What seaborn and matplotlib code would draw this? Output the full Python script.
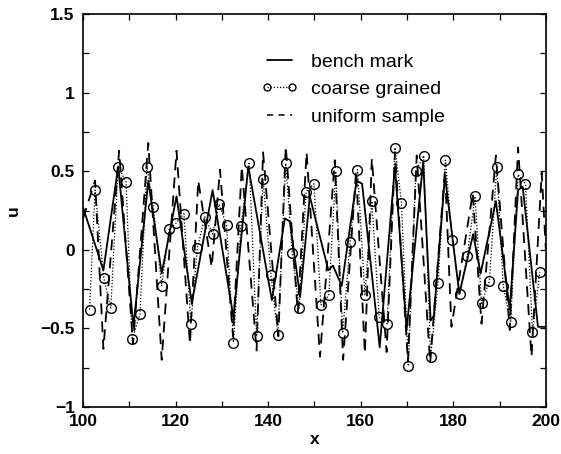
import matplotlib
matplotlib.use("Agg")
import matplotlib.pyplot as plt
from matplotlib.ticker import MultipleLocator
import seaborn as sns
import pandas as pd

# bench mark (solid)
bench_x = [100.0, 104.4, 107.6, 110.9, 114.1, 117.0, 120.2, 123.5, 128.0, 132.5,
           135.7, 140.8, 143.6, 144.7, 146.9, 149.0, 153.0, 154.0, 155.9, 159.1,
           160.3, 164.1, 167.4, 169.9, 173.5, 175.1, 175.8, 178.2, 181.3, 184.3,
           185.9, 189.2, 192.2, 194.0, 195.0, 198.3, 200.0]
bench_u = [0.27, -0.13, 0.53, -0.49, 0.44, -0.15, 0.34, -0.34, 0.38, -0.43,
           0.53, -0.32, 0.20, 0.18, -0.30, 0.34, -0.13, -0.10, -0.23, 0.44,
           0.42, -0.62, 0.53, -0.51, 0.56, -0.45, -0.42, 0.47, -0.28, 0.10,
           -0.15, 0.31, -0.38, 0.38, 0.40, -0.49, -0.49]

# coarse grained (circles, dotted)
coarse_x = [101.4, 102.6, 104.5, 106.0, 107.6, 109.3, 110.6, 112.3, 113.8, 115.2,
            117.0, 118.6, 120.1, 121.8, 123.3, 124.7, 126.3, 128.0, 129.4, 131.0,
            132.5, 134.1, 135.9, 137.5, 138.9, 140.6, 142.1, 143.8, 145.2, 146.7,
            148.2, 149.9, 151.4, 153.1, 154.6, 156.1, 157.7, 159.3, 160.9, 162.4,
            164.0, 165.7, 167.4, 168.8, 170.3, 171.9, 173.6, 175.1, 176.7, 178.3,
            179.8, 181.4, 183.0, 184.7, 186.1, 187.8, 189.4, 190.8, 192.4, 194.0,
            195.6, 197.1, 198.7]
coarse_u = [-0.38, 0.38, -0.18, -0.37, 0.53, 0.43, -0.57, -0.41, 0.53, 0.27,
            -0.23, 0.13, 0.17, 0.23, -0.47, 0.01, 0.21, 0.10, 0.29, 0.16,
            -0.59, 0.15, 0.55, -0.55, 0.45, -0.16, -0.54, 0.55, -0.02, -0.37,
            0.37, 0.42, -0.35, -0.29, 0.50, -0.53, 0.05, 0.51, -0.29, 0.31,
            -0.43, -0.47, 0.65, 0.30, -0.74, 0.50, 0.60, -0.68, -0.21, 0.57,
            0.06, -0.28, -0.04, 0.34, -0.34, -0.20, 0.53, -0.23, -0.46, 0.48,
            0.42, -0.52, -0.14]

# uniform sample (dashed)
uniform_x = [100.0, 102.6, 104.4, 107.8, 110.8, 114.1, 117.0, 120.2, 123.1, 124.9,
             127.8, 129.6, 132.4, 134.3, 137.5, 138.9, 142.2, 143.8, 146.4, 148.3,
             151.2, 154.4, 156.2, 159.0, 160.9, 162.4, 165.6, 167.4, 170.2, 172.1,
             175.0, 178.2, 179.6, 184.2, 186.1, 189.2, 192.2, 194.0, 196.9, 199.1,
             200.0]
uniform_u = [0.20, 0.44, -0.63, 0.63, -0.60, 0.68, -0.70, 0.63, -0.60, 0.44,
             -0.11, 0.51, -0.55, 0.53, -0.64, 0.62, -0.55, 0.66, -0.40, 0.62,
             -0.68, 0.57, -0.70, 0.50, -0.66, 0.58, -0.65, 0.62, -0.71, 0.60,
             -0.72, 0.51, -0.49, 0.36, -0.47, 0.60, -0.51, 0.65, -0.68, 0.49,
             0.00]

bench = pd.DataFrame({"x": bench_x, "u": bench_u})
coarse = pd.DataFrame({"x": coarse_x, "u": coarse_u})
uniform = pd.DataFrame({"x": uniform_x, "u": uniform_u})

sns.set_style("ticks", {"axes.edgecolor": "black", "text.color": "black",
                        "axes.labelcolor": "black", "xtick.color": "black",
                        "ytick.color": "black"})
plt.rcParams['font.family'] = ['Liberation Sans', 'DejaVu Sans']

fig = plt.figure(figsize=(5.61, 4.54), dpi=100)
ax = fig.add_axes([0.148, 0.1035, 0.825, 0.8656])

sns.lineplot(data=bench, x="x", y="u", ax=ax, color="black", linewidth=1.3,
             estimator=None, sort=False, label="bench mark")
sns.lineplot(data=coarse, x="x", y="u", ax=ax, color="black", linewidth=0.9,
             linestyle=(0, (1, 1.5)), marker="o", markersize=7, markerfacecolor="none",
             markeredgecolor="black", markeredgewidth=1.0,
             estimator=None, sort=False, label="coarse grained")
sns.lineplot(data=uniform, x="x", y="u", ax=ax, color="black", linewidth=1.3,
             linestyle=(0, (6, 4)), estimator=None, sort=False, label="uniform sample")

ax.set_xlim(100, 200)
ax.set_ylim(-1, 1.5)
ax.xaxis.set_major_locator(MultipleLocator(20))
ax.xaxis.set_minor_locator(MultipleLocator(10))
ax.yaxis.set_major_locator(MultipleLocator(0.5))
ax.yaxis.set_minor_locator(MultipleLocator(0.25))
ax.tick_params(which="both", direction="in", top=True, right=True, length=4, width=0.9,
               color="black", labelcolor="black")
ax.tick_params(axis="y", which="major", pad=6)
ax.tick_params(axis="x", which="major", pad=5)
ax.set_yticks([-1, -0.5, 0, 0.5, 1, 1.5])
ax.set_yticklabels(["\u22121", "\u22120.5", "0", "0.5", "1", "1.5"],
                   fontweight="bold", fontsize=12.5)
ax.set_xticks([100, 120, 140, 160, 180, 200])
ax.set_xticklabels(["100", "120", "140", "160", "180", "200"],
                   fontweight="bold", fontsize=12.5)
for sp in ax.spines.values():
    sp.set_linewidth(1.2)
    sp.set_color("black")

ax.set_xlabel("x", fontsize=12.5, fontweight="bold", labelpad=2, color="black")
ax.set_ylabel("u", fontsize=12.5, fontweight="bold", rotation=90, labelpad=14, color="black")

leg = ax.legend(loc="upper left", bbox_to_anchor=(0.385, 0.90), frameon=False,
                fontsize=14, handlelength=1.9, handletextpad=0.65, labelspacing=0.5,
                borderpad=0, borderaxespad=0, numpoints=2)
leg.legend_handles[1].set_markersize(5)
leg.legend_handles[2].set_linestyle((0, (4, 3.5)))
leg.legend_handles[2].set_linewidth(1.1)
for t in leg.get_texts():
    t.set_color("black")

fig.savefig("out.png", dpi=100)
